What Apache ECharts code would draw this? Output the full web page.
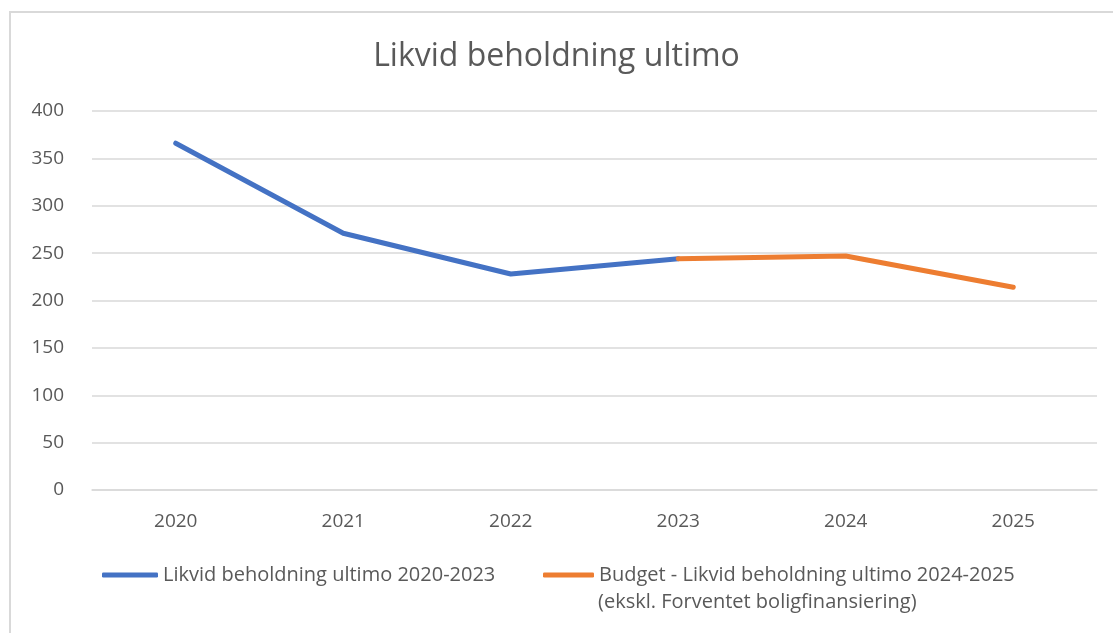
<!DOCTYPE html>
<html>
<head>
<meta charset="utf-8">
<script src="https://cdn.jsdelivr.net/npm/echarts@6/dist/echarts.min.js"></script>
<style>
  html, body { margin: 0; padding: 0; background: #fff; }
  #chart { width: 1113px; height: 633px; }
</style>
</head>
<body>
<div id="chart"></div>
<script>
// Data
const years = ['2020', '2021', '2022', '2023', '2024', '2025'];
const actualValues = [366, 271, 228, 244, null, null];
const budgetValues = [null, null, null, 244, 247, 214];
const yTicks = { min: 0, max: 400, interval: 50 };

const ACTUAL_NAME = 'Likvid beholdning ultimo 2020-2023';
const BUDGET_NAME = 'Budget - Likvid beholdning ultimo 2024-2025';
const BUDGET_NOTE = '(ekskl. Forventet boligfinansiering)';

const FONT = '"Open Sans", sans-serif';
const TEXT_COLOR = '#595959';
const GRID_COLOR = '#d9d9d9';

const chart = echarts.init(document.getElementById('chart'));

const legendText = { color: TEXT_COLOR, fontSize: 20, fontFamily: FONT };

chart.setOption({
  animation: false,
  title: {
    text: 'Likvid beholdning ultimo',
    left: 'center',
    top: 36,
    textStyle: { color: TEXT_COLOR, fontSize: 32, fontWeight: 'normal', fontFamily: FONT }
  },
  grid: { left: 92, right: 16, top: 111, bottom: 143 },
  legend: [
    {
      data: [ACTUAL_NAME],
      left: 97,
      top: 560,
      icon: 'roundRect',
      itemWidth: 56,
      itemHeight: 5,
      textStyle: legendText
    },
    {
      data: [BUDGET_NAME],
      left: 538,
      top: 560,
      icon: 'roundRect',
      itemWidth: 51,
      itemHeight: 5,
      textStyle: legendText
    }
  ],
  graphic: [
    {
      type: 'rect',
      silent: true,
      shape: { x: 10, y: 12, width: 1130, height: 660 },
      style: { fill: 'none', stroke: GRID_COLOR, lineWidth: 2 }
    },
    {
      type: 'text',
      silent: true,
      left: 598,
      top: 592,
      style: { text: BUDGET_NOTE, fill: TEXT_COLOR, fontSize: 20, fontFamily: FONT }
    }
  ],
  xAxis: {
    type: 'category',
    data: years,
    boundaryGap: true,
    axisLine: { show: true, lineStyle: { color: GRID_COLOR, width: 1.5 } },
    axisTick: { show: false },
    axisLabel: { color: TEXT_COLOR, fontSize: 19, fontFamily: FONT, margin: 22 }
  },
  yAxis: {
    type: 'value',
    min: yTicks.min,
    max: yTicks.max,
    interval: yTicks.interval,
    axisLine: { show: false },
    axisTick: { show: false },
    axisLabel: { color: TEXT_COLOR, fontSize: 19, fontFamily: FONT, margin: 28 },
    splitLine: { lineStyle: { color: GRID_COLOR, width: 1.5 } }
  },
  series: [
    {
      name: ACTUAL_NAME,
      type: 'line',
      data: actualValues,
      symbol: 'none',
      connectNulls: false,
      itemStyle: { color: '#4472C4' },
      lineStyle: { color: '#4472C4', width: 5, cap: 'round', join: 'round' }
    },
    {
      name: BUDGET_NAME,
      type: 'line',
      data: budgetValues,
      symbol: 'none',
      connectNulls: false,
      itemStyle: { color: '#ED7D31' },
      lineStyle: { color: '#ED7D31', width: 5, cap: 'round', join: 'round' }
    }
  ]
});
</script>
</body>
</html>
